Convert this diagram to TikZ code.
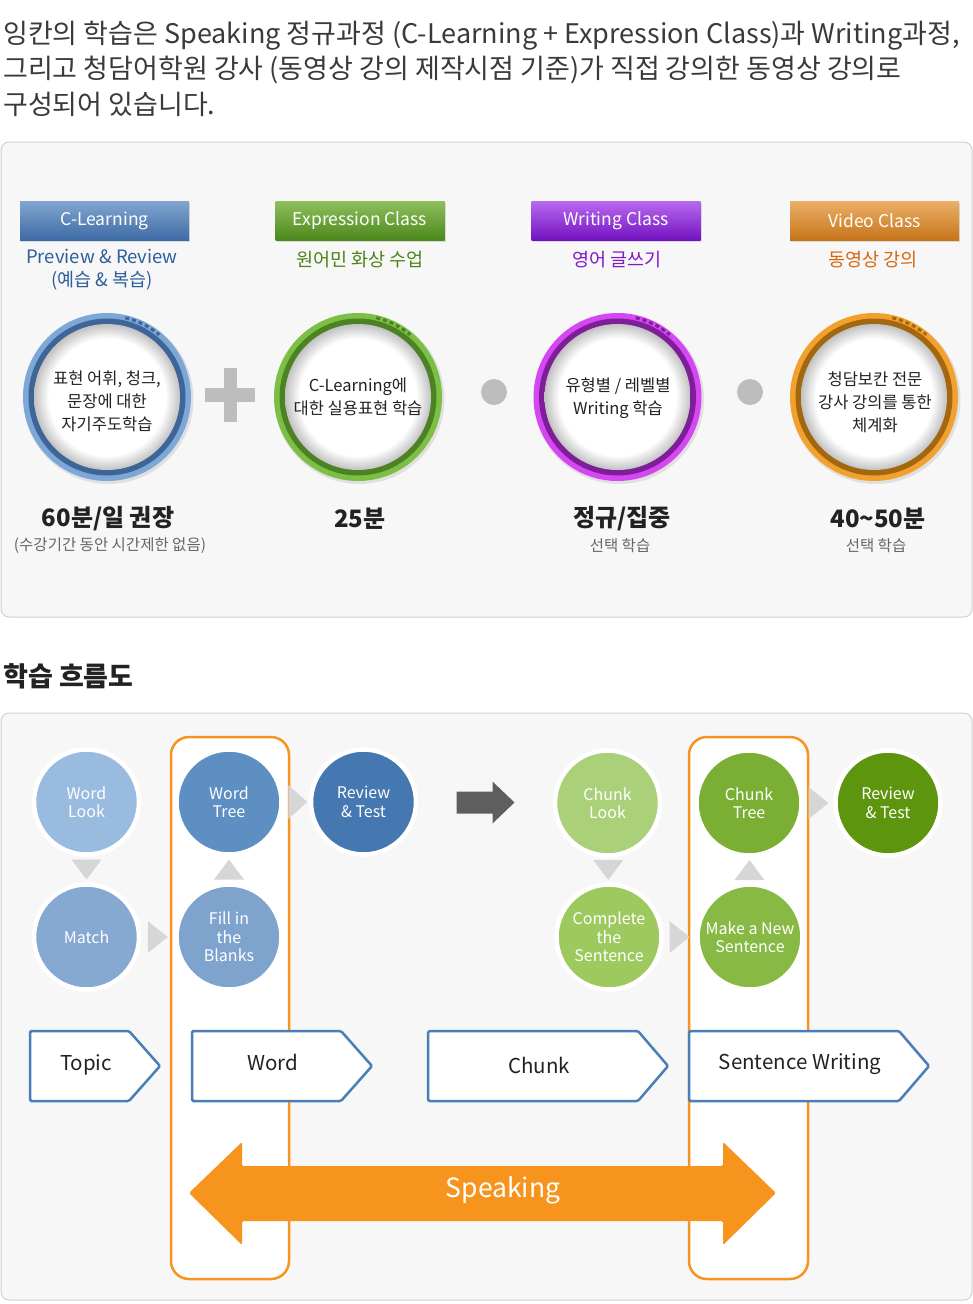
\documentclass[tikz,border=0pt]{standalone}
\usepackage{fontspec}
\setmainfont{Noto Sans CJK KR}
\usetikzlibrary{calc,shadows}
\definecolor{panelbg}{HTML}{F7F7F7}
\definecolor{panelline}{HTML}{D2D2D2}
\definecolor{txt}{HTML}{3A3A3A}
\definecolor{txtdark}{HTML}{222222}
\definecolor{txtgray}{HTML}{666666}
\definecolor{blueA}{HTML}{82A6D0}
\definecolor{blueB}{HTML}{3D6AA5}
\definecolor{greenA}{HTML}{8FBF5E}
\definecolor{greenB}{HTML}{4C881C}
\definecolor{purA}{HTML}{B86AEE}
\definecolor{purB}{HTML}{7412C0}
\definecolor{oraA}{HTML}{ECB068}
\definecolor{oraB}{HTML}{C6741A}
\definecolor{blueT}{HTML}{2F5E9C}
\definecolor{greenT}{HTML}{4A8416}
\definecolor{purT}{HTML}{8416C8}
\definecolor{oraT}{HTML}{D4680E}
\definecolor{blueL}{HTML}{7CA7D6}
\definecolor{blueD}{HTML}{3E6597}
\definecolor{greenL}{HTML}{7CBF45}
\definecolor{greenD}{HTML}{4C8223}
\definecolor{purL}{HTML}{D447F2}
\definecolor{purD}{HTML}{7E1E98}
\definecolor{oraL}{HTML}{F2A12E}
\definecolor{oraD}{HTML}{A2670F}
\definecolor{plusgray}{HTML}{BDBDBD}
\definecolor{trigray}{HTML}{D6D6D6}
\definecolor{darkarrow}{HTML}{5E5E5E}
\definecolor{colorange}{HTML}{F7941D}
\definecolor{pentblue}{HTML}{4A7EB7}
\definecolor{cWL}{HTML}{9ABBE0}
\definecolor{cMA}{HTML}{86A9D2}
\definecolor{cWT}{HTML}{5E8FC3}
\definecolor{cFB}{HTML}{7EA3CD}
\definecolor{cRT}{HTML}{4577B0}
\definecolor{cCL}{HTML}{AAD17A}
\definecolor{cCS}{HTML}{9DC95E}
\definecolor{cCT}{HTML}{7BAF33}
\definecolor{cMN}{HTML}{88B944}
\definecolor{cRG}{HTML}{5E950E}
\pgfdeclareradialshading{innershadow}{\pgfpoint{0bp}{0bp}}{color(0bp)=(white); color(20bp)=(white); color(25bp)=(black!24); color(50bp)=(black!24)}
\tikzset{
  pics/ringc/.style n args={3}{code={
    \fill[black!12] (1.5,-2) circle (85pt);
    \fill[#1] (0,0) circle (84pt);
    \fill[#2] (0,0) circle (78.5pt);
    \shade[shading=innershadow] (0,0) circle (73pt);
    \draw[#3, line width=3pt, dash pattern=on 4pt off 3pt] (77:81.3) arc (77:50:81.3);
  }},
  titletxt/.style={anchor=west, inner sep=0pt, text=txt, font=\fontsize{27}{30}\selectfont},
  hdr/.style={minimum width=169pt, minimum height=39pt, inner sep=0pt, text=white,
    font=\fontsize{17.5}{20}\selectfont,
    drop shadow={opacity=0.25, shadow xshift=1pt, shadow yshift=-1.5pt}},
  subt/.style={align=center, inner sep=0pt, font=\fontsize{18.5}{23}\selectfont},
  ctext/.style={align=center, inner sep=0pt, text=txtdark, font=\fontsize{16.5}{23}\selectfont},
  bigt/.style={inner sep=0pt, text=txtdark, font=\bfseries\fontsize{24}{26}\selectfont},
  smallt/.style={inner sep=0pt, text=txtgray, font=\fontsize{15.5}{18}\selectfont},
  panel/.style={fill=panelbg, draw=panelline, line width=1pt, rounded corners=8pt},
  colbox/.style={fill=white, draw=colorange, line width=2.5pt, rounded corners=18pt},
  fc/.style={circle, fill=#1, draw=white, line width=4.5pt, minimum size=105pt, inner sep=0pt,
    text=white, align=center, font=\fontsize{16}{18.5}\selectfont},
  tri/.style={fill=trigray},
  pent/.style={fill=white, draw=pentblue, line width=2.5pt, rounded corners=1.5pt},
  penttxt/.style={inner sep=0pt, text=txtdark, font=\fontsize{20.5}{22}\selectfont},
}
\begin{document}
\begin{tikzpicture}[x=1pt,y=1pt]
\useasboundingbox (0,0) rectangle (973,-1304);
\fill[white] (0,0) rectangle (973,-1304);

% ---------- intro text ----------
\node[titletxt] (t1) at (3,-36) {잉칸의 학습은 Speaking 정규과정 (C-Learning + Expression Class)과 Writing과정,};
\node[titletxt] (t2) at (3,-70) {그리고 청담어학원 강사 (동영상 강의 제작시점 기준)가 직접 강의한 동영상 강의로};
\node[titletxt] (t3) at (3,-104) {구성되어 있습니다.};

% ---------- panel 1 ----------
\draw[panel] (1,-142) rectangle (972,-617);

\node[hdr, top color=blueA, bottom color=blueB] (h1) at (104.5,-220.5) {C-Learning};
\node[hdr, top color=greenA, bottom color=greenB] (h2) at (360,-220.5) {Expression Class};
\node[hdr, top color=purA, bottom color=purB] (h3) at (616,-220.5) {Writing Class};
\node[hdr, top color=oraA, bottom color=oraB] (h4) at (874.5,-220.5) {Video Class};

\node[subt, text=blueT] (s1) at (102,-270) {Preview \& Review\\(예습 \& 복습)};
\node[subt, text=greenT] (s2) at (360,-260) {원어민 화상 수업};
\node[subt, text=purT] (s3) at (617,-260) {영어 글쓰기};
\node[subt, text=oraT] (s4) at (873,-260) {동영상 강의};

\pic at (107,-397) {ringc={blueL}{blueD}{blueD}};
\pic at (358,-397) {ringc={greenL}{greenD}{greenD}};
\pic at (617.5,-397) {ringc={purL}{purD}{purD}};
\pic at (874,-397) {ringc={oraL}{oraD}{oraD}};

\node[ctext] (c1) at (107,-401) {표현 어휘, 청크,\\문장에 대한\\자기주도학습};
\node[ctext] (c2) at (358,-396.5) {C-Learning에\\대한 실용표현 학습};
\node[ctext] (c3) at (618,-398.5) {유형별 / 레벨별\\Writing 학습};
\node[ctext] (c4) at (875,-402) {청담보칸 전문\\강사 강의를 통한\\체계화};

% plus and dots
\fill[plusgray] (205,-388) rectangle (255,-402);
\fill[plusgray] (224,-368) rectangle (237,-422);
\fill[plusgray] (494,-392) circle (13pt);
\fill[plusgray] (750,-392) circle (13pt);

\node[bigt] (b1) at (108,-519) {60분/일 권장};
\node[smallt] (d1) at (110,-546) {(수강기간 동안 시간제한 없음)};
\node[bigt] (b2) at (360,-519) {25분};
\node[bigt] (b3) at (622,-519) {정규/집중};
\node[smallt] (d3) at (620,-546) {선택 학습};
\node[bigt] (b4) at (878,-519) {40\textasciitilde 50분};
\node[smallt] (d4) at (876,-546) {선택 학습};

% ---------- heading ----------
\node[anchor=west, inner sep=0pt, text=txtdark, font=\bfseries\fontsize{27}{29}\selectfont] (hd) at (3,-676) {학습 흐름도};

% ---------- panel 2 ----------
\draw[panel] (1,-713) rectangle (972,-1300);
\draw[colbox] (171,-737) rectangle (289,-1279);
\draw[colbox] (689,-737) rectangle (808,-1279);

\node[fc=cWL] (wl) at (86.5,-802) {Word\\Look};
\node[fc=cMA] (ma) at (86.5,-937) {Match};
\node[fc=cWT] (wt) at (229,-802) {Word\\Tree};
\node[fc=cFB] (fb) at (229,-937) {Fill in\\the\\Blanks};
\node[fc=cRT] (rt1) at (363.5,-802) {Review\\\& Test};
\node[fc=cCL] (cl) at (607.5,-803) {Chunk\\Look};
\node[fc=cCS] (cs) at (609,-937) {Complete\\the\\Sentence};
\node[fc=cCT] (ct) at (749,-803) {Chunk\\Tree};
\node[fc=cMN] (mn) at (750,-937) {Make a New\\Sentence};
\node[fc=cRG] (rt2) at (888,-803) {Review\\\& Test};

% triangles (down)
\coordinate (m1) at ($(wl.south)!0.5!(ma.north)$);
\fill[tri] ($(m1)+(-15,10)$) -- ($(m1)+(15,10)$) -- ($(m1)+(0,-10)$) -- cycle;
\coordinate (m2) at ($(cl.south)!0.5!(cs.north)$);
\fill[tri] ($(m2)+(-15,10)$) -- ($(m2)+(15,10)$) -- ($(m2)+(0,-10)$) -- cycle;
% triangles (up)
\coordinate (m3) at ($(fb.north)!0.5!(wt.south)$);
\fill[tri] ($(m3)+(-15,-10)$) -- ($(m3)+(15,-10)$) -- ($(m3)+(0,10)$) -- cycle;
\coordinate (m4) at ($(mn.north)!0.5!(ct.south)$);
\fill[tri] ($(m4)+(-15,-10)$) -- ($(m4)+(15,-10)$) -- ($(m4)+(0,10)$) -- cycle;
% triangles (right)
\coordinate (m5) at ($(ma.east)!0.5!(fb.west)$);
\fill[tri] ($(m5)+(-10,16)$) -- ($(m5)+(10,0)$) -- ($(m5)+(-10,-16)$) -- cycle;
\coordinate (m6) at ($(wt.east)!0.5!(rt1.west)$);
\fill[tri] ($(m6)+(-8,17)$) -- ($(m6)+(11,0)$) -- ($(m6)+(-8,-17)$) -- cycle;
\coordinate (m7) at ($(cs.east)!0.5!(mn.west)$);
\fill[tri] ($(m7)+(-10,16)$) -- ($(m7)+(10,0)$) -- ($(m7)+(-10,-16)$) -- cycle;
\coordinate (m8) at ($(ct.east)!0.5!(rt2.west)$);
\fill[tri] ($(m8)+(-10,16)$) -- ($(m8)+(10,0)$) -- ($(m8)+(-10,-16)$) -- cycle;

% big dark arrow
\coordinate (m9) at ($(rt1.east)!0.5!(cl.west)$);
\fill[darkarrow] ($(m9)+(-29,11)$) -- ($(m9)+(7,11)$) -- ($(m9)+(7,21)$) -- ($(m9)+(29,0)$)
  -- ($(m9)+(7,-21)$) -- ($(m9)+(7,-11)$) -- ($(m9)+(-29,-11)$) -- cycle;

% pentagon boxes
\draw[pent] (30,-1031) -- (129,-1031) -- (160,-1066) -- (129,-1101) -- (30,-1101) -- cycle;
\node[penttxt] (topic) at (86,-1065) {Topic};
\draw[pent] (192,-1031) -- (341,-1031) -- (372,-1066) -- (341,-1101) -- (192,-1101) -- cycle;
\node[penttxt] (word) at (273,-1062) {Word};
\draw[pent] (428,-1031) -- (638,-1031) -- (668,-1066) -- (638,-1101) -- (428,-1101) -- cycle;
\node[penttxt] (chunk) at (539,-1065) {Chunk};
\draw[pent] (689,-1031) -- (899,-1031) -- (929,-1066) -- (899,-1101) -- (689,-1101) -- cycle;
\node[penttxt] (sent) at (800,-1064) {Sentence Writing};

% speaking arrow
\fill[colorange, rounded corners=1.5pt] (189,-1193) -- (242,-1142) -- (242,-1166) -- (723,-1166) -- (723,-1142)
  -- (776,-1193) -- (723,-1245) -- (723,-1221) -- (242,-1221) -- (242,-1245) -- cycle;
\node[inner sep=0pt, text=white, font=\fontsize{26.5}{28}\selectfont] (speak) at (503,-1190) {Speaking};
\end{tikzpicture}
\end{document}
